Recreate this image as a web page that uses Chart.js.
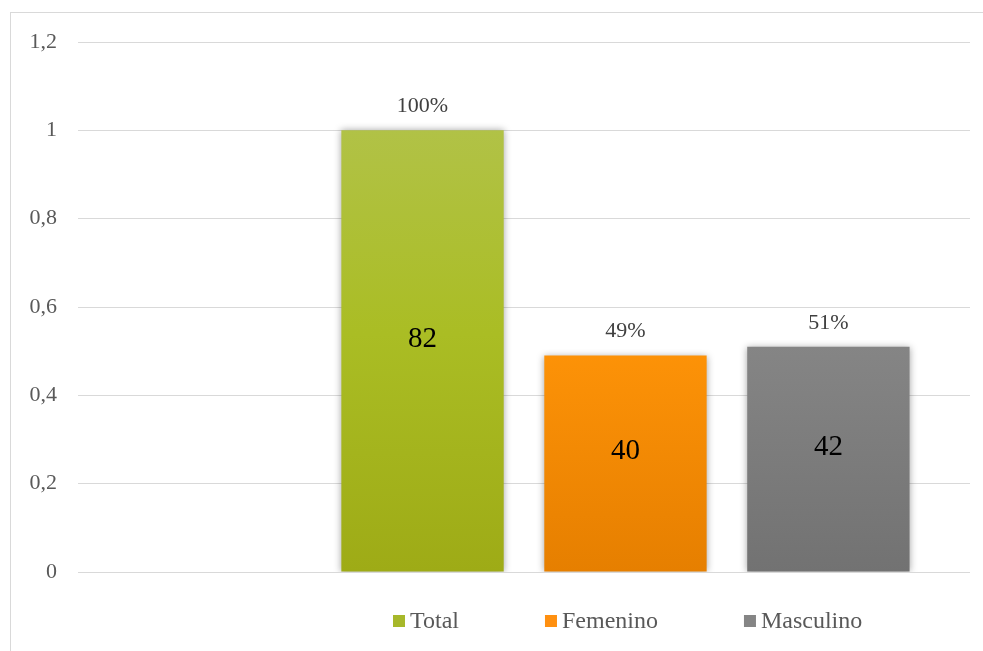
<!DOCTYPE html>
<html>
<head>
<meta charset="utf-8">
<script src="https://cdn.jsdelivr.net/npm/chart.js@4"></script>
<style>
  html, body { margin: 0; padding: 0; background: #fff; overflow: hidden; }
  #frame { position: absolute; left: 10px; top: 12px; width: 1100px; height: 800px; border: 1px solid #d9d9d9; }
  #wrap { position: absolute; left: 0; top: 0; width: 983px; height: 651px; }
</style>
</head>
<body>
<div id="frame"></div>
<div id="wrap"><canvas id="chart"></canvas></div>
<script>
// data
const categories = [''];
const seriesNames = ['', 'Total', 'Femenino', 'Masculino'];
const shareValues = [0, 1, 0.49, 0.51];          // bar heights
const shareLabels = ['', '100%', '49%', '51%'];   // label above bar
const countLabels = ['', '82', '40', '42'];       // label inside bar
const yTicks = [0, 0.2, 0.4, 0.6, 0.8, 1, 1.2];

const gradients = [
    ['#ffffff', '#ffffff', '#ffffff'],
    ['#b4c455', '#aabd24', '#9eab16'],
    ['#ffa244', '#ff9408', '#e67f00'],
    ['#929292', '#868686', '#727272']
];
const legendSwatch = ['', '#a7b82a', '#ff9010', '#858585'];

function barFill(i) {
    return (context) => {
        const chart = context.chart;
        const area = chart.chartArea;
        if (!area) return gradients[i][1];
        const g = chart.ctx.createLinearGradient(0, area.top, 0, area.bottom);
        g.addColorStop(0, gradients[i][0]);
        g.addColorStop(0.55, gradients[i][1]);
        g.addColorStop(1, gradients[i][2]);
        return g;
    };
}

const datasets = seriesNames.map((name, i) => ({
    label: name,
    data: [shareValues[i]],
    backgroundColor: barFill(i),
    borderWidth: 0,
    categoryPercentage: 0.91,
    barPercentage: 0.8
}));

const serif = '"Liberation Serif", "Times New Roman", serif';

// soft shadow behind the bars
const shadowPlugin = {
    id: 'barShadow',
    beforeDatasetsDraw(chart) {
        const ctx = chart.ctx;
        ctx.save();
        ctx.shadowColor = 'rgba(0,0,0,0.35)';
        ctx.shadowBlur = 7;
    },
    afterDatasetsDraw(chart) {
        chart.ctx.restore();
    }
};

// value labels: percent above, count in the middle
const labelPlugin = {
    id: 'barLabels',
    afterDatasetsDraw(chart) {
        const ctx = chart.ctx;
        ctx.save();
        ctx.textAlign = 'center';
        ctx.textBaseline = 'middle';
        chart.data.datasets.forEach((ds, i) => {
            if (!shareLabels[i]) return;
            const bar = chart.getDatasetMeta(i).data[0];
            ctx.font = '22px ' + serif;
            ctx.fillStyle = '#404040';
            ctx.fillText(shareLabels[i], bar.x, bar.y - 24);
            ctx.font = '29px ' + serif;
            ctx.fillStyle = '#000000';
            ctx.fillText(countLabels[i], bar.x, (bar.y + bar.base) / 2 - 12);
        });
        ctx.restore();
    }
};

// legend drawn below the plot
const legendPlugin = {
    id: 'bottomLegend',
    afterDraw(chart) {
        const ctx = chart.ctx;
        ctx.save();
        ctx.font = '24px ' + serif;
        ctx.textBaseline = 'middle';
        let x = 393;
        const y = 621;
        for (let i = 1; i < seriesNames.length; i++) {
            ctx.fillStyle = legendSwatch[i];
            ctx.fillRect(x, y - 6, 12, 12);
            ctx.fillStyle = '#595959';
            ctx.fillText(seriesNames[i], x + 17, y + 1);
            x += 17 + ctx.measureText(seriesNames[i]).width + 86;
        }
        ctx.restore();
    }
};

new Chart(document.getElementById('chart'), {
    type: 'bar',
    data: { labels: categories, datasets: datasets },
    options: {
        responsive: true,
        maintainAspectRatio: false,
        animation: false,
        layout: { padding: { top: 42, right: 13, bottom: 79, left: 0 } },
        plugins: { legend: { display: false }, tooltip: { enabled: false } },
        scales: {
            x: { display: false },
            y: {
                min: 0,
                max: 1.2,
                afterFit(scale) { scale.width = 78; },
                afterBuildTicks(scale) { scale.ticks = yTicks.map(v => ({ value: v })); },
                border: { display: false },
                grid: { color: '#d9d9d9', lineWidth: 1, drawTicks: false },
                ticks: {
                    padding: 21,
                    color: '#595959',
                    font: { family: serif, size: 22 },
                    callback: (v) => String(Math.round(v * 10) / 10).replace('.', ',')
                }
            }
        }
    },
    plugins: [shadowPlugin, labelPlugin, legendPlugin]
});
</script>
</body>
</html>
